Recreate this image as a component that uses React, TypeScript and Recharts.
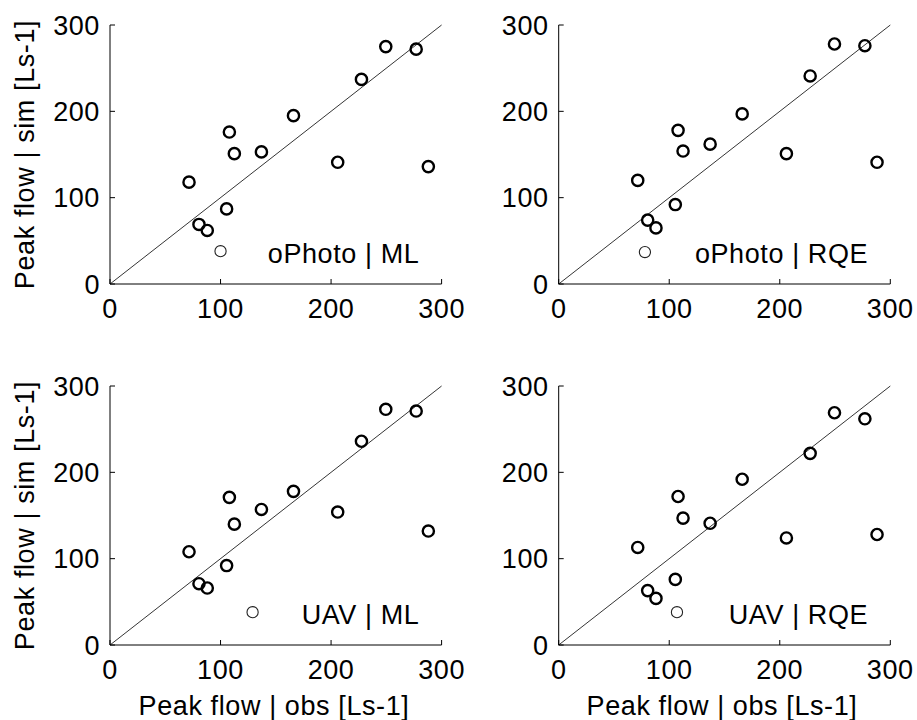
import React from 'react';
import { ScatterChart, Scatter, XAxis, YAxis, ReferenceLine, ReferenceDot } from 'recharts';

// Observed peak flows [Ls-1] (shared by all panels)
const obsPeak = [71.5, 80.5, 88, 105.5, 108, 112.5, 137, 166, 206, 227.5, 249.5, 277, 288];

// Simulated peak flows [Ls-1] per panel
const simOPhotoML = [118, 69, 62, 87, 176, 151, 153, 195, 141, 237, 275, 272, 136];
const simOPhotoRQE = [120, 74, 65, 92, 178, 154, 162, 197, 151, 241, 278, 276, 141];
const simUavML = [108, 71, 66, 92, 171, 140, 157, 178, 154, 236, 273, 271, 132];
const simUavRQE = [113, 63, 54, 76, 172, 147, 141, 192, 124, 222, 269, 262, 128];

// Thin-outlined event per panel (obs, sim)
const outlierObs = [100, 78, 129, 107];
const outlierSim = [38, 37, 38, 38];

const panelTitles = ['oPhoto | ML', 'oPhoto | RQE', 'UAV | ML', 'UAV | RQE'];
const axisTicks = [0, 100, 200, 300];
const yTitle = 'Peak flow | sim [Ls-1]';
const xTitle = 'Peak flow | obs [Ls-1]';

const FONT = '"Liberation Sans", Arial, Helvetica, sans-serif';
const FS = 27;
const LS = 0.6;

const boldCircle = (p: any) => (
  <circle cx={p.cx} cy={p.cy} r={5.6} fill="none" stroke="#000" strokeWidth={2.4} />
);
const thinCircle = (p: any) => (
  <circle cx={p.cx} cy={p.cy} r={5.6} fill="none" stroke="#222" strokeWidth={1.1} />
);

type PanelProps = {
  boxLeft: number;
  boxTop: number;
  boxWidth: number;
  plotLeft: number;
  sims: number[];
  oObs: number;
  oSim: number;
  title: string;
};

function Panel({ boxLeft, boxTop, boxWidth, plotLeft, sims, oObs, oSim, title }: PanelProps) {
  const data = obsPeak.map((x, i) => ({ x, y: sims[i] }));
  const outlier = [{ x: oObs, y: oSim }];
  const yW = 60;
  const xH = 40;
  const plotTop = 25;
  const plotW = 331.6;
  const plotH = 259;
  const H = 360;
  const margin = {
    top: plotTop,
    left: plotLeft - yW,
    right: boxWidth - plotLeft - plotW,
    bottom: H - plotTop - plotH - xH,
  };
  const tickStyle = { fill: '#000', fontSize: FS, fontFamily: FONT, letterSpacing: LS };
  return (
    <div style={{ position: 'absolute', left: boxLeft, top: boxTop }}>
      <ScatterChart width={boxWidth} height={H} margin={margin} style={{ overflow: 'visible' }}>
        <XAxis
          type="number"
          dataKey="x"
          domain={[0, 300]}
          ticks={axisTicks}
          interval={0}
          height={xH}
          tickSize={-5}
          tickMargin={20}
          stroke="#000"
          tick={tickStyle}
          allowDataOverflow
        />
        <YAxis
          type="number"
          dataKey="y"
          domain={[0, 300]}
          ticks={axisTicks}
          interval={0}
          width={yW}
          tickSize={-5}
          tickMargin={15}
          stroke="#000"
          tick={tickStyle}
          allowDataOverflow
        />
        <ReferenceLine
          segment={[{ x: 0, y: 0 }, { x: 300, y: 300 }]}
          stroke="#000"
          strokeWidth={0.8}
        />
        <Scatter data={data} shape={boldCircle} isAnimationActive={false} />
        <Scatter data={outlier} shape={thinCircle} isAnimationActive={false} />
        <ReferenceDot
          x={280}
          y={24}
          r={0}
          shape={(p: any) => (
            <text
              x={p.cx}
              y={p.cy}
              textAnchor="end"
              fontSize={FS}
              fontFamily={FONT}
              letterSpacing={LS}
              fill="#000"
            >
              {title}
            </text>
          )}
        />
      </ScatterChart>
    </div>
  );
}

export default function App() {
  return (
    <div
      style={{
        position: 'absolute',
        left: 0,
        top: 0,
        width: 917,
        height: 720,
        background: '#fff',
        overflow: 'hidden',
      }}
    >
      <Panel boxLeft={0} boxTop={0} boxWidth={480} plotLeft={110} sims={simOPhotoML} oObs={outlierObs[0]} oSim={outlierSim[0]} title={panelTitles[0]} />
      <Panel boxLeft={460} boxTop={0} boxWidth={457} plotLeft={98.7} sims={simOPhotoRQE} oObs={outlierObs[1]} oSim={outlierSim[1]} title={panelTitles[1]} />
      <Panel boxLeft={0} boxTop={361} boxWidth={480} plotLeft={110} sims={simUavML} oObs={outlierObs[2]} oSim={outlierSim[2]} title={panelTitles[2]} />
      <Panel boxLeft={460} boxTop={361} boxWidth={457} plotLeft={98.7} sims={simUavRQE} oObs={outlierObs[3]} oSim={outlierSim[3]} title={panelTitles[3]} />
      <svg width={917} height={720} style={{ position: 'absolute', left: 0, top: 0, pointerEvents: 'none' }}>
        <text x={34} y={154.5} transform="rotate(-90 34 154.5)" textAnchor="middle" fontSize={FS} fontFamily={FONT} letterSpacing={LS} fill="#000">
          {yTitle}
        </text>
        <text x={34} y={515.5} transform="rotate(-90 34 515.5)" textAnchor="middle" fontSize={FS} fontFamily={FONT} letterSpacing={LS} fill="#000">
          {yTitle}
        </text>
        <text x={274} y={715} textAnchor="middle" fontSize={FS} fontFamily={FONT} letterSpacing={LS} fill="#000">
          {xTitle}
        </text>
        <text x={722} y={715} textAnchor="middle" fontSize={FS} fontFamily={FONT} letterSpacing={LS} fill="#000">
          {xTitle}
        </text>
      </svg>
    </div>
  );
}
